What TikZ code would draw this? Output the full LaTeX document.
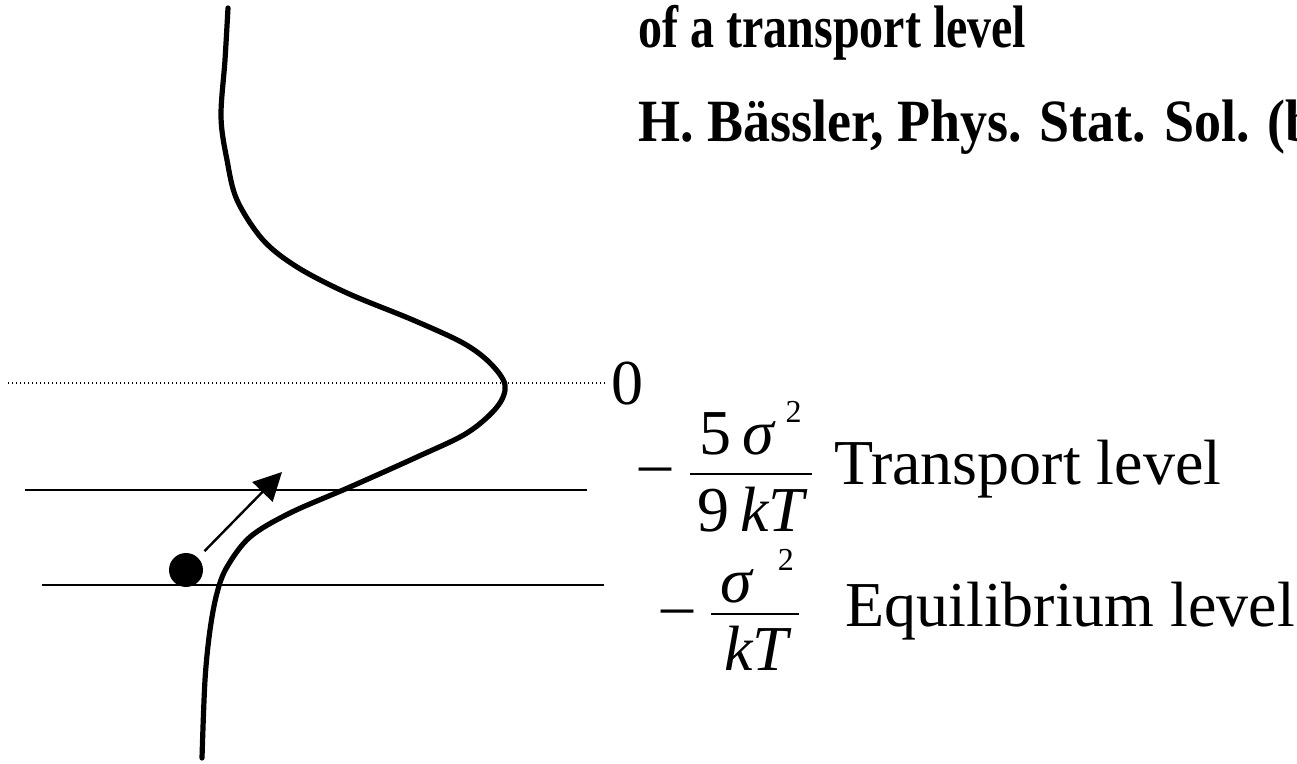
\documentclass[tikz,border=0pt]{standalone}
\usepackage{fontspec}
\setmainfont{Liberation Serif}
\usepackage{graphicx}
\usetikzlibrary{arrows.meta}
\newcommand\sqtwo{\raisebox{16pt}{\fontsize{16}{16}\selectfont 2}}

\begin{document}
\begin{tikzpicture}[x=0.5pt,y=-0.5pt,>={Triangle[length=14pt,width=14pt]},
  lbl/.style={inner sep=0pt,anchor=base west,font=\fontsize{32}{36}\selectfont},
  ttl/.style={inner sep=0pt,anchor=base west,font=\fontsize{30}{36}\selectfont\bfseries},
  level/.style={line width=0.9pt},
  fracbar/.style={line width=1.1pt},
  dos/.style={line width=2.6pt,line cap=round,line join=round}]
\useasboundingbox (0,0) rectangle (1297,764);
\node[ttl] (line1) at (638,48) {\scalebox{0.8}[1]{of a transport level}};
\node[ttl] (line2) at (638,142) {\scalebox{0.9}[1]{H. Bässler, Phys. Stat. Sol. (b}};
\node[lbl] (zero) at (611,405) {0};
\draw[line width=0.6pt,dash pattern=on 0.6pt off 1.4pt] (8,383) -- (606,383);
\draw[level] (25,490) -- (587,490);
\draw[level] (42,585) -- (604,585);
\draw[dos] plot[smooth,tension=0.55] coordinates {(228,8) (225,60) (221,117) (227,160) (237,200) (263,240) (297,267) (347,293) (413,320) (463,343) (490,363) (505,385) (497,407) (467,433) (417,457) (350,487) (290,513) (250,537) (227,567) (217,593) (210,630) (205,680) (202,758)};
\node[circle,fill,inner sep=0pt,minimum size=17pt] (dot) at (186,570) {};
\coordinate (hop) at (282,472);
\draw[->,line width=1.2pt,shorten <=4.5pt] (dot) -- (hop);
\node[lbl] (m1) at (639,485) {–};
\node[lbl] (num1) at (699,455) {5\,\textit{σ}\hspace{5pt}\sqtwo};
\draw[fracbar] (690,474) -- (812,474);
\node[lbl] (den1) at (697,532) {9\,\textit{kT}};
\node[lbl] (tl) at (834,485) {Transport level};
\node[lbl] (m2) at (661,627) {–};
\node[lbl] (num2) at (720,603) {\textit{σ}\hspace{12pt}\sqtwo};
\draw[fracbar] (711,614) -- (799,614);
\node[lbl] (den2) at (724,670) {\textit{kT}};
\node[lbl] (el) at (845,627) {Equilibrium level};
\end{tikzpicture}
\end{document}
